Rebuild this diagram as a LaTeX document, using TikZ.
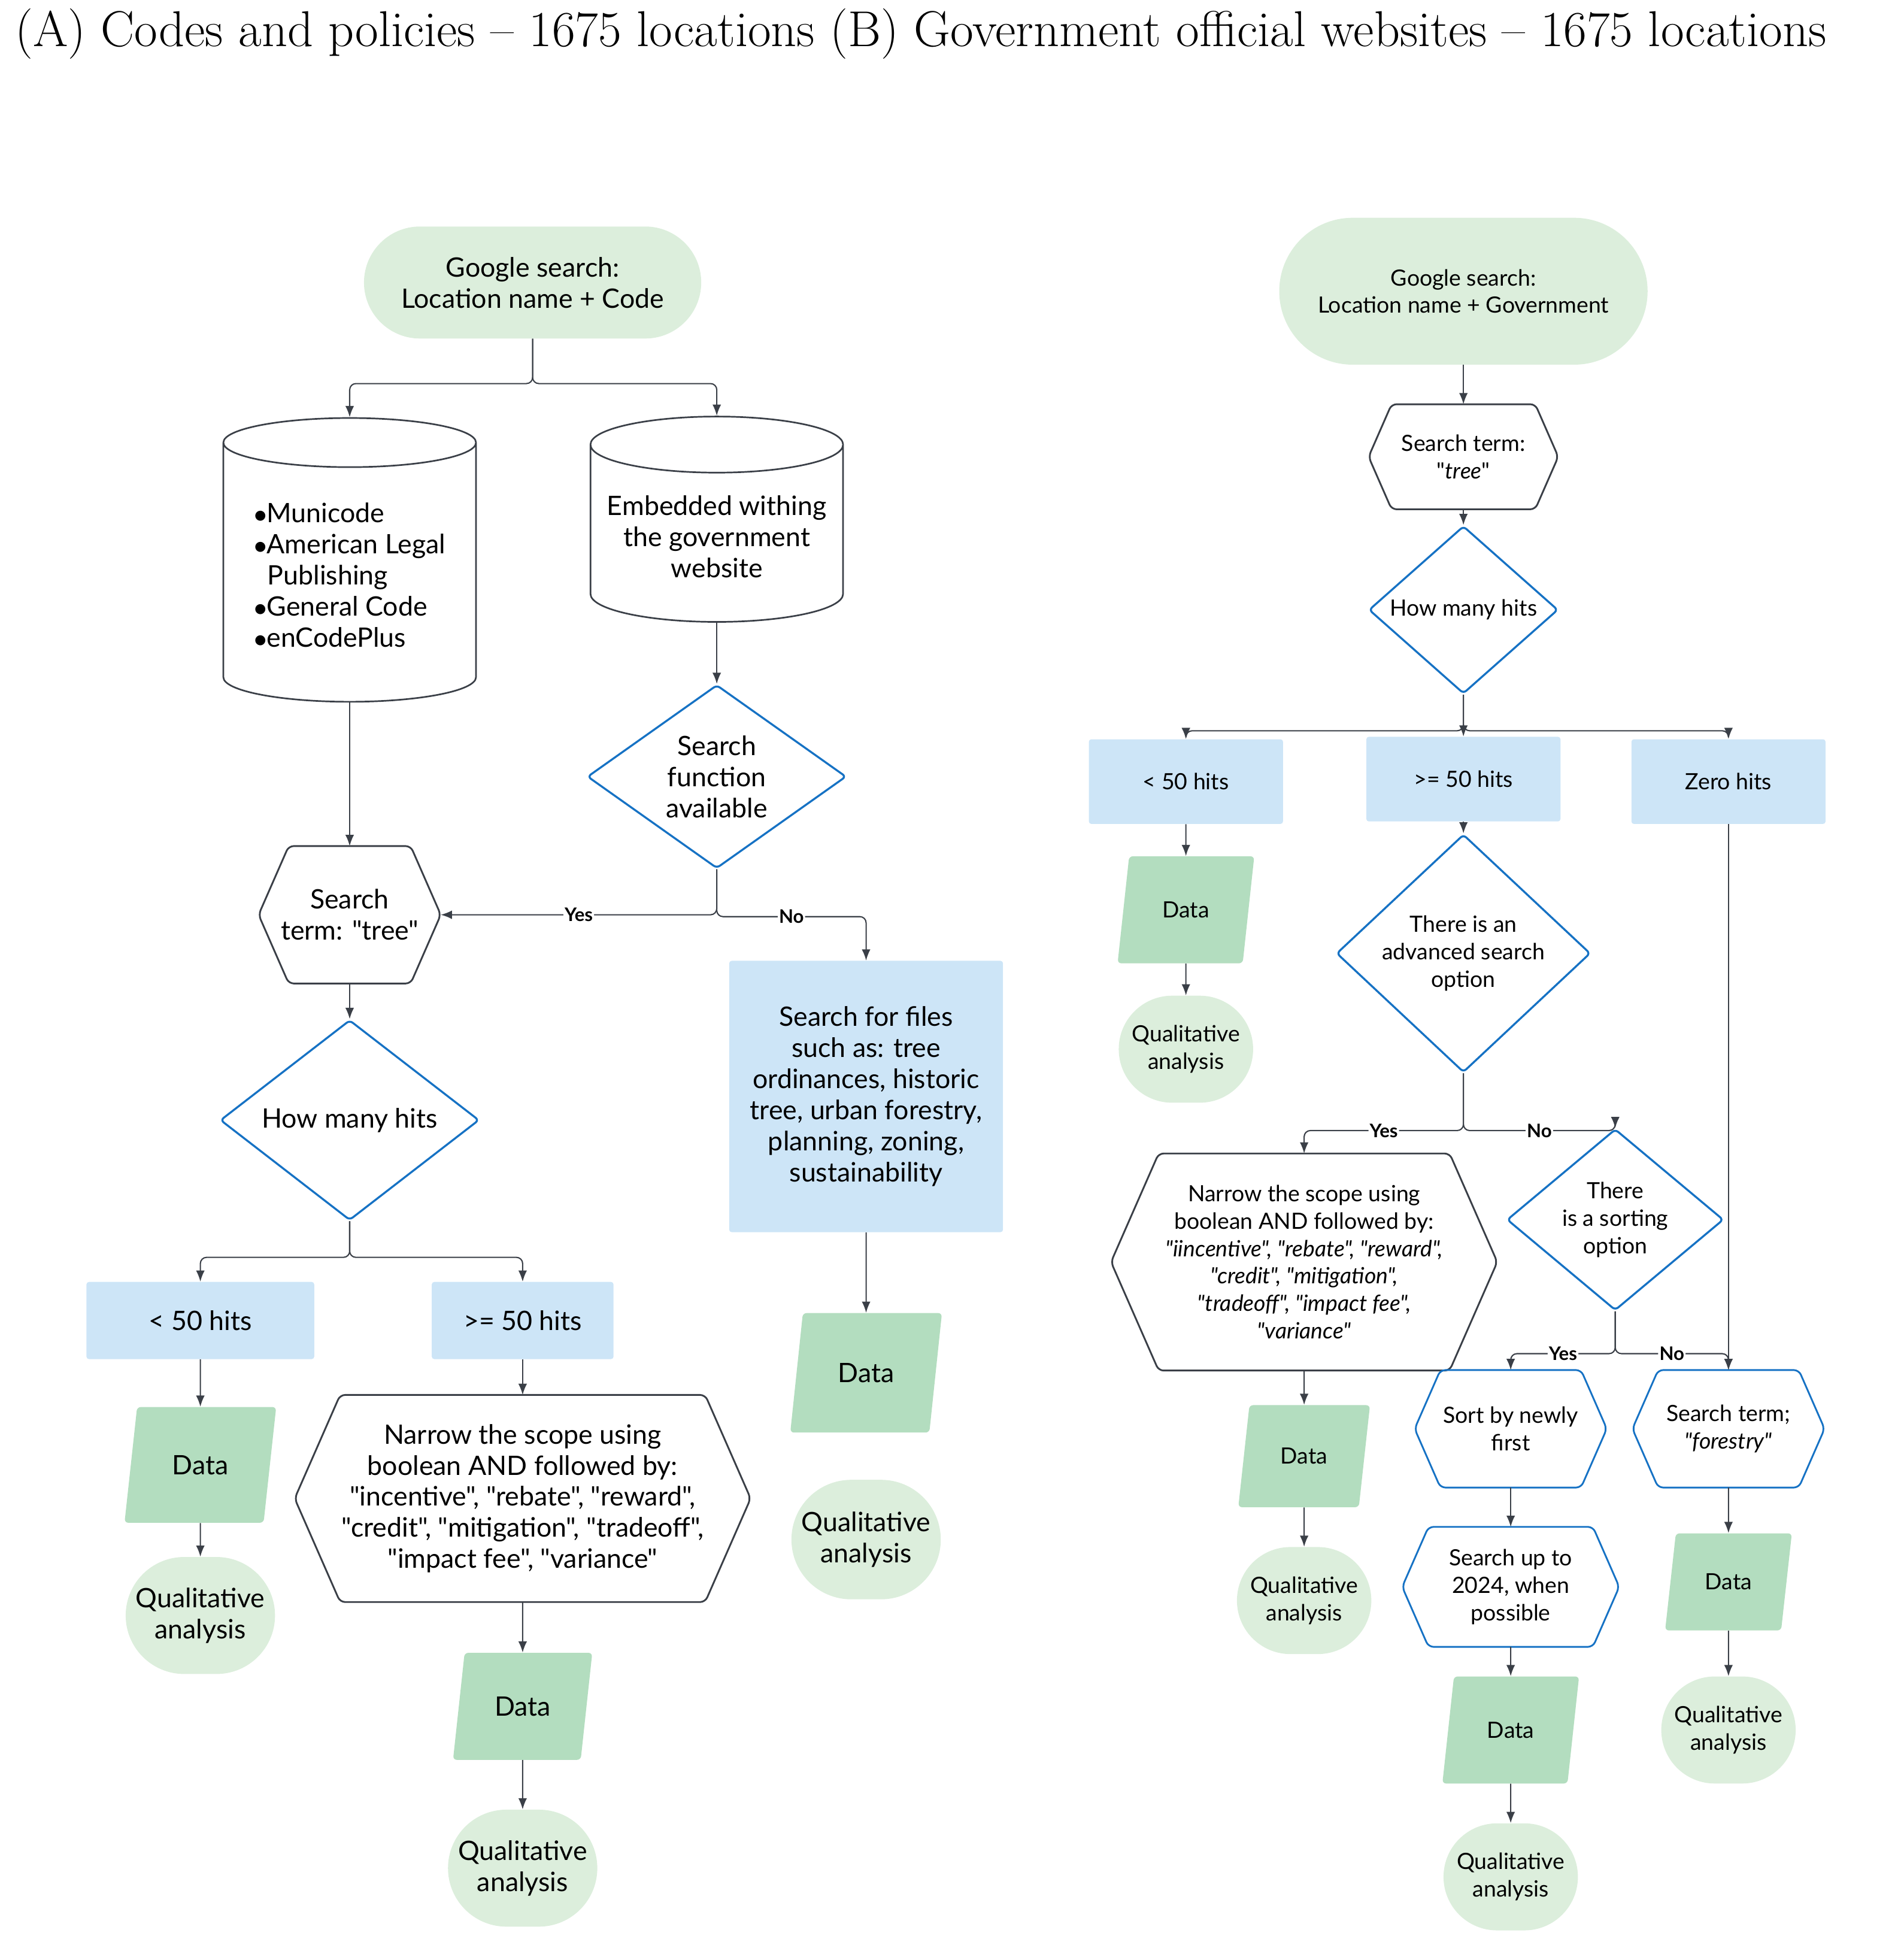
\documentclass[tikz,border=0pt]{standalone}
\usepackage{fontspec}
\newfontfamily\sans{Lato}
\usetikzlibrary{calc}
\usetikzlibrary{shapes.geometric,shapes.misc,arrows.meta}
\definecolor{pillgreen}{HTML}{DCEEDC}
\definecolor{datagreen}{HTML}{B3DDBF}
\definecolor{boxblue}{HTML}{CDE5F7}
\definecolor{lineblue}{HTML}{1672C4}
\definecolor{darkline}{HTML}{3A3F47}
\tikzset{
  txt/.style={align=center, inner sep=2pt, font=\sans\fontsize{21.5}{25}\selectfont},
  small/.style={font=\sans\fontsize{18}{22}\selectfont},
  pill/.style={txt, rounded rectangle, fill=pillgreen},
  hitbox/.style={txt, rectangle, fill=boxblue, rounded corners=2pt},
  datanode/.style={txt, trapezium, trapezium left angle=76, trapezium right angle=104, trapezium stretches=true, fill=datagreen, rounded corners=3pt},
  decide/.style={txt, diamond, draw=lineblue, line width=1.6pt, rounded corners=3pt, inner sep=0pt},
  store/.style={txt, cylinder, shape border rotate=90, aspect=0.25, draw=darkline, line width=1.3pt},
  arr/.style={-{Latex[length=9pt,width=7pt]}, draw=darkline, line width=1pt, rounded corners=5pt},
  lbl/.style={font=\sans\bfseries\fontsize{15}{17}\selectfont, fill=white, inner sep=1pt},
}
\newcommand{\hexnode}[8]{% name, x, y, width, height, outline, font style, text
  \node[txt, #7, minimum width=#4pt, minimum height=#5pt] (#1) at (#2,#3) {#8};
  \draw[#6, line width=1.4pt, rounded corners=4pt] (#1.west) -- ($(#1.north west)+({0.22*#5},0)$) -- ($(#1.north east)-({0.22*#5},0)$) -- (#1.east) -- ($(#1.south east)-({0.22*#5},0)$) -- ($(#1.south west)+({0.22*#5},0)$) -- cycle;}

\begin{document}
\begin{tikzpicture}[x=1pt,y=-1pt]
        \useasboundingbox (0,0) rectangle (1530,1570);
        % title
        \node[anchor=west, inner sep=0pt, font=\fontsize{40.5}{46}\selectfont] (title) at (12,27) {(A) Codes and policies -- 1675 locations (B) Government official websites -- 1675 locations};
        % part A
        \node[pill, minimum width=275pt, minimum height=90pt] (gA) at (428,227) {Google search:\\Location name + Code};
        \node[store, minimum width=203pt, minimum height=228pt, align=left] (cyl1) at (281,462) {$\bullet$Municode\\$\bullet$American Legal\\\ \ Publishing\\$\bullet$General Code\\$\bullet$enCodePlus};
        \node[store, minimum width=203pt, minimum height=165pt] (cyl2) at (576,431) {Embedded withing\\the government\\website};
        \node[decide, minimum width=208pt, minimum height=146pt] (funcA) at (576,624) {Search\\function\\available};
        \hexnode{termA}{281}{735}{146}{110}{draw=darkline}{}{Search\\term: "tree"}
        \node[hitbox, minimum width=220pt, minimum height=218pt] (files) at (696,881) {Search for files\\such as: tree\\ordinances, historic\\tree, urban forestry,\\planning, zoning,\\sustainability};
        \node[decide, minimum width=208pt, minimum height=144pt] (hitsA) at (281,900) {How many hits};
        \node[hitbox, minimum width=183pt, minimum height=62pt] (lowA) at (161,1061) {< 50 hits};
        \node[hitbox, minimum width=146pt, minimum height=62pt] (highA) at (420,1061) {>= 50 hits};
        \node[datanode, minimum width=122pt, minimum height=93pt] (dataA1) at (161,1177) {Data};
        \node[pill, minimum width=124pt, minimum height=94pt] (qaA1) at (161,1298) {Qualitative\\analysis};
        \hexnode{narrowA}{420}{1204}{366}{166}{draw=darkline}{}{Narrow the scope using\\boolean AND followed by:\\"incentive", "rebate", "reward",\\"credit", "mitigation", "tradeoff",\\"impact fee", "variance"}
        \node[datanode, minimum width=112pt, minimum height=86pt] (dataA2) at (420,1371) {Data};
        \node[pill, minimum width=124pt, minimum height=94pt] (qaA2) at (420,1501) {Qualitative\\analysis};
        \node[datanode, minimum width=122pt, minimum height=96pt] (dataA3) at (696,1103) {Data};
        \node[pill, minimum width=124pt, minimum height=96pt] (qaA3) at (696,1237) {Qualitative\\analysis};
        % connectors A
        \draw[arr] (gA.south) -- ++(0,36) -| (cyl1.north);
        \draw[arr] (gA.south) -- ++(0,36) -| (cyl2.north);
        \draw[arr] (cyl1.south) -- (termA.north);
        \draw[arr] (cyl2.south) -- (funcA.north);
        \draw[arr] (funcA.south) |- node[lbl, pos=0.75] {Yes} (termA.east);
        \draw[arr] (funcA.south) -- ++(0,38) -| node[lbl, pos=0.25] {No} (files.north);
        \draw[arr] (termA.south) -- (hitsA.north);
        \draw[arr] (hitsA.south) -- ++(0,29) -| (lowA.north);
        \draw[arr] (hitsA.south) -- ++(0,29) -| (highA.north);
        \draw[arr] (lowA.south) -- (dataA1.north);
        \draw[arr] (dataA1.south) -- (qaA1.north);
        \draw[arr] (highA.south) -- (narrowA.north);
        \draw[arr] (narrowA.south) -- (dataA2.north);
        \draw[arr] (dataA2.south) -- (qaA2.north);
        \draw[arr] (files.south) -- (dataA3.north);
        % part B
        \node[pill, small, minimum width=300pt, minimum height=118pt] (gB) at (1176,234) {Google search:\\Location name + Government};
        \hexnode{termB}{1176}{367}{152}{84}{draw=darkline}{small}{Search term:\\"\textit{tree}"}
        \node[decide, small, minimum width=152pt, minimum height=94pt] (hitsB) at (1176,490) {How many hits};
        \node[hitbox, small, minimum width=156pt, minimum height=68pt] (lowB) at (953,628) {< 50 hits};
        \node[hitbox, small, minimum width=156pt, minimum height=68pt] (highB) at (1176,626) {>= 50 hits};
        \node[hitbox, small, minimum width=156pt, minimum height=68pt] (zeroB) at (1389,628) {Zero hits};
        \node[datanode, small, minimum width=110pt, minimum height=86pt] (dataB1) at (953,731) {Data};
        \node[pill, small, minimum width=112pt, minimum height=86pt] (qaB1) at (953,843) {Qualitative\\analysis};
        \node[decide, small, minimum width=204pt, minimum height=136pt] (advB) at (1176,766) {There is an\\advanced search\\option};
        \hexnode{narrowB}{1048}{1014}{310}{174}{draw=darkline}{small}{Narrow the scope using\\boolean AND followed by:\\\textit{"iincentive", "rebate", "reward",}\\\textit{"credit", "mitigation",}\\\textit{"tradeoff", "impact fee",}\\\textit{"variance"}}
        \node[decide, small, minimum width=174pt, minimum height=104pt] (sortB) at (1298,980) {There\\is a sorting\\option};
        \hexnode{newB}{1214}{1148}{154}{94}{draw=lineblue}{small}{Sort by newly\\first}
        \hexnode{forestB}{1389}{1148}{154}{94}{draw=lineblue}{small}{Search term;\\\textit{"forestry"}}
        \hexnode{yearB}{1214}{1275}{174}{96}{draw=lineblue}{small}{Search up to\\2024, when\\possible}
        \node[datanode, small, minimum width=110pt, minimum height=86pt] (dataB2) at (1214,1390) {Data};
        \node[pill, small, minimum width=112pt, minimum height=86pt] (qaB2) at (1214,1508) {Qualitative\\analysis};
        \node[datanode, small, minimum width=106pt, minimum height=82pt] (dataB3) at (1048,1170) {Data};
        \node[pill, small, minimum width=112pt, minimum height=86pt] (qaB3) at (1048,1286) {Qualitative\\analysis};
        \node[datanode, small, minimum width=102pt, minimum height=78pt] (dataB4) at (1389,1271) {Data};
        \node[pill, small, minimum width=112pt, minimum height=86pt] (qaB4) at (1389,1390) {Qualitative\\analysis};
        % connectors B
        \draw[arr] (gB.south) -- (termB.north);
        \draw[arr] (termB.south) -- (hitsB.north);
        \draw[arr] (hitsB.south) -- ++(0,29) -| (lowB.north);
        \draw[arr] (hitsB.south) -- (highB.north);
        \draw[arr] (hitsB.south) -- ++(0,29) -| (zeroB.north);
        \draw[arr] (lowB.south) -- (dataB1.north);
        \draw[arr] (dataB1.south) -- (qaB1.north);
        \draw[arr] (highB.south) -- (advB.north);
        \draw[arr] (advB.south) -- ++(0,46) -| node[lbl, pos=0.25] {Yes} (narrowB.north);
        \draw[arr] (advB.south) -- ++(0,46) -| node[lbl, pos=0.25] {No} (sortB.north);
        \draw[arr] (sortB.south) -- ++(0,34) -| node[lbl, pos=0.25] {Yes} (newB.north);
        \draw[arr] (sortB.south) -- ++(0,34) -| node[lbl, pos=0.25] {No} (forestB.north);
        \draw[arr] (zeroB.south) -- (forestB.north);
        \draw[arr] (newB.south) -- (yearB.north);
        \draw[arr] (yearB.south) -- (dataB2.north);
        \draw[arr] (dataB2.south) -- (qaB2.north);
        \draw[arr] (narrowB.south) -- (dataB3.north);
        \draw[arr] (dataB3.south) -- (qaB3.north);
        \draw[arr] (forestB.south) -- (dataB4.north);
        \draw[arr] (dataB4.south) -- (qaB4.north);
    \end{tikzpicture}
\end{document}
